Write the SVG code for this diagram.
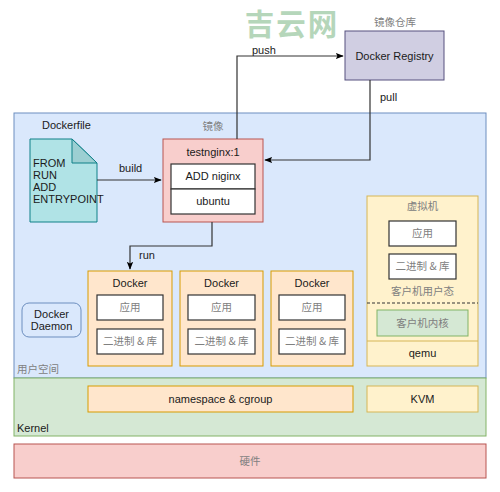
<svg xmlns="http://www.w3.org/2000/svg" width="500" height="492" viewBox="0 0 500 492">
<defs>
<style>
text{font-family:"Liberation Sans",Arial,"Noto Sans CJK SC",sans-serif;font-size:11px;fill:#1a1a1a}
.c{text-anchor:middle}
.zh{font-family:"Noto Sans CJK SC","Liberation Serif",serif;fill:#808080;font-size:10.5px}
.box{fill:#fff;stroke:#333;stroke-width:1.2}
.dk{fill:#ffe6cc;stroke:#d79b00;stroke-width:1}
.vm{fill:#fff2cc;stroke:#d6b656;stroke-width:1}
.ln{fill:none;stroke:#333;stroke-width:1.2}
</style>
<marker id="ar" viewBox="0 0 10 10" refX="9" refY="5" markerWidth="8" markerHeight="8" orient="auto" markerUnits="userSpaceOnUse"><path d="M0,1 L10,5 L0,9 L2,5 Z" fill="#000"/></marker>
</defs>
<rect width="500" height="492" fill="#fff"/>

<g id="userspace">
<rect x="14" y="113" width="472" height="265" fill="#dae8fc" stroke="#6c8ebf" stroke-width="1"/>
<text x="17" y="373" class="zh">用户空间</text>
</g>
<g id="kernel">
<rect x="14" y="378" width="472" height="58" fill="#d5e8d4" stroke="#82b366" stroke-width="1"/>
<text x="17" y="432">Kernel</text>
</g>
<g id="hardware">
<rect x="14" y="444" width="472" height="34" fill="#f8cecc" stroke="#b85450" stroke-width="1"/>
<text x="250" y="465" class="zh c">硬件</text>
</g>

<g id="registry">
<text x="395" y="26" class="zh c">镜像仓库</text>
<rect x="345" y="31" width="99" height="49" fill="#d0cee2" stroke="#56517e" stroke-width="1"/>
<text x="394.5" y="60" class="c">Docker Registry</text>
</g>

<g id="dockerfile">
<text x="42" y="129">Dockerfile</text>
<path d="M30,139 H72 L97,163 V222 H30 Z" fill="#b0e3e6" stroke="#0e8088" stroke-width="1"/>
<path d="M72,139 V163 H97 Z" fill="#9ccfd2" stroke="#0e8088" stroke-width="1"/>
<text x="33" y="167">FROM</text>
<text x="33" y="179">RUN</text>
<text x="33" y="191">ADD</text>
<text x="33" y="203">ENTRYPOINT</text>
</g>

<g id="image">
<text x="213" y="130" class="zh c">镜像</text>
<rect x="163" y="139" width="100" height="83" fill="#f8cecc" stroke="#b85450" stroke-width="1"/>
<text x="213" y="156" class="c">testnginx:1</text>
<rect x="171" y="164" width="84" height="25" class="box"/>
<text x="213" y="180" class="c">ADD niginx</text>
<rect x="171" y="189" width="84" height="25" class="box"/>
<text x="213" y="205" class="c">ubuntu</text>
</g>

<g id="daemon">
<rect x="22" y="303" width="59" height="34" rx="7" fill="#dae8fc" stroke="#6c8ebf" stroke-width="1"/>
<text x="51.5" y="318" class="c">Docker</text>
<text x="51.5" y="330" class="c">Daemon</text>
</g>

<g id="docker1">
<rect x="88" y="271" width="84" height="95" class="dk"/>
<text x="130" y="287" class="c">Docker</text>
<rect x="97" y="295" width="66" height="25" class="box"/>
<text x="130" y="311" class="zh c">应用</text>
<rect x="97" y="329" width="66" height="25" class="box"/>
<text x="130" y="345" class="zh c">二进制 &amp; 库</text>
</g>
<g id="docker2">
<rect x="180" y="271" width="83" height="95" class="dk"/>
<text x="221.5" y="287" class="c">Docker</text>
<rect x="188" y="295" width="67" height="25" class="box"/>
<text x="221.5" y="311" class="zh c">应用</text>
<rect x="188" y="329" width="67" height="25" class="box"/>
<text x="221.5" y="345" class="zh c">二进制 &amp; 库</text>
</g>
<g id="docker3">
<rect x="271" y="271" width="82" height="95" class="dk"/>
<text x="312" y="287" class="c">Docker</text>
<rect x="279" y="295" width="66" height="25" class="box"/>
<text x="312" y="311" class="zh c">应用</text>
<rect x="279" y="329" width="66" height="25" class="box"/>
<text x="312" y="345" class="zh c">二进制 &amp; 库</text>
</g>

<g id="vm">
<rect x="367" y="196" width="111" height="170" class="vm"/>
<text x="422.5" y="210" class="zh c">虚拟机</text>
<rect x="389" y="221" width="67" height="25" class="box"/>
<text x="422.5" y="237" class="zh c">应用</text>
<rect x="389" y="254" width="67" height="25" class="box"/>
<text x="422.5" y="270" class="zh c">二进制 &amp; 库</text>
<text x="422.5" y="295" class="zh c">客户机用户态</text>
<line x1="367" y1="303" x2="478" y2="303" stroke="#333" stroke-width="1" stroke-dasharray="3,2"/>
<rect x="377" y="310" width="91" height="26" fill="#d5e8d4" stroke="#82b366" stroke-width="1"/>
<text x="422.5" y="327" class="zh c">客户机内核</text>
<line x1="367" y1="341" x2="478" y2="341" stroke="#d6b656" stroke-width="1"/>
<text x="422.5" y="357" class="c">qemu</text>
</g>

<g id="ns">
<rect x="88" y="386" width="265" height="26" class="dk"/>
<text x="220.5" y="403" class="c">namespace &amp; cgroup</text>
</g>
<g id="kvm">
<rect x="367" y="386" width="111" height="26" class="vm"/>
<text x="422.5" y="403" class="c">KVM</text>
</g>

<g id="connectors">
<path d="M237,139 V56 H343" class="ln" marker-end="url(#ar)"/>
<text x="252" y="53.5">push</text>
<path d="M370,80 V160 H265" class="ln" marker-end="url(#ar)"/>
<text x="380" y="101">pull</text>
<path d="M97,180 H161" class="ln" marker-end="url(#ar)"/>
<text x="119" y="172">build</text>
<path d="M212,222 V246 H130 V269" class="ln" marker-end="url(#ar)"/>
<text x="139" y="259">run</text>
</g>

<text x="292" y="34.5" class="c" style="font-family:'Noto Sans CJK SC',sans-serif;font-size:29.5px;font-weight:bold;fill:#a9cfae;opacity:0.85;letter-spacing:2px">吉云网</text>
</svg>
